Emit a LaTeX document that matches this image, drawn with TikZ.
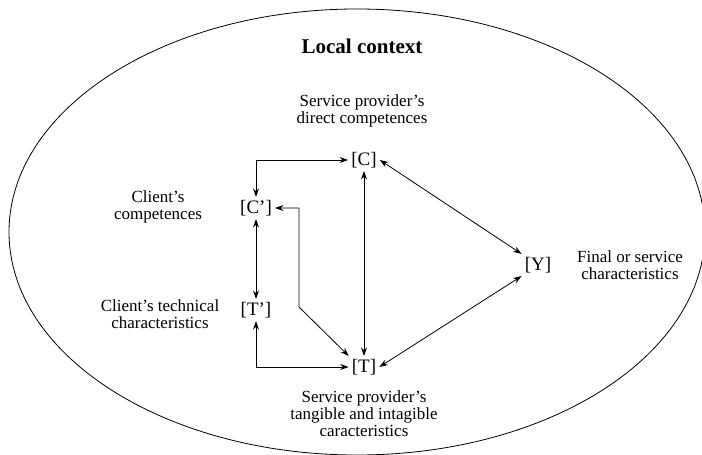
\documentclass[tikz,border=0pt]{standalone}
\usepackage{fontspec}
\setmainfont{Liberation Serif}
\usetikzlibrary{arrows.meta}
\begin{document}
\begin{tikzpicture}[x=1pt,y=-1pt,
  var/.style={font=\fontsize{19}{20}\selectfont, inner sep=3pt},
  lbl/.style={font=\fontsize{17}{17}\selectfont, align=center, inner sep=0pt},
  conn/.style={line width=0.8pt, {Stealth[length=8.5pt,width=6pt]}-{Stealth[length=8.5pt,width=6pt]}},
]
\useasboundingbox (0,0) rectangle (702,455);
\draw[line width=0.8pt] (357,232) ellipse [x radius=348, y radius=223];

\node[font=\bfseries\fontsize{21}{22}\selectfont] (title) at (362,46) {Local context};
\node[lbl] (lC) at (362,111) {Service provider’s\\direct competences};
\node[lbl] (lCp) at (158,207) {Client’s\\competences};
\node[lbl] (lTp) at (160,314) {Client’s technical\\characteristics};
\node[lbl] (lY) at (630,265) {Final or service\\characteristics};
\node[lbl] (lT) at (364,414) {Service provider’s\\tangible and intagible\\caracteristics};

\node[var] (C) at (364,160) {[C]};
\node[var] (Cp) at (256,208) {[C’]};
\node[var] (Tp) at (256,310) {[T’]};
\node[var] (T) at (364,367) {[T]};
\node[var] (Y) at (538,265) {[Y]};

\coordinate (k1) at (299,307);

\draw[conn] (Cp.north) |- (C.west);
\draw[conn] (C.south) -- (T.north);
\draw[conn] (C.east) -- (Y.north west);
\draw[conn] (Y.south west) -- (T.east);
\draw[conn] (Cp.south) -- (Tp.north);
\draw[conn] (Tp.south) |- (T.west);
\draw[conn] (Cp.east) -| (k1) -- (T.north west);
\end{tikzpicture}
\end{document}
